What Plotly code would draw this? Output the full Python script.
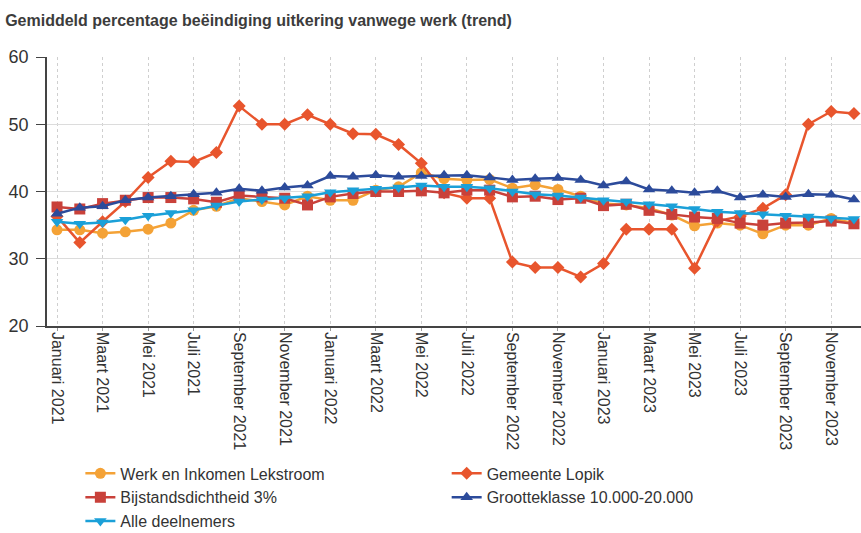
import plotly.graph_objects as go

months = ["Januari", "Februari", "Maart", "April", "Mei", "Juni", "Juli", "Augustus",
          "September", "Oktober", "November", "December"]
categories = [f"{m} {y}" for y in (2021, 2022, 2023) for m in months]

werk = [34.3, 34.3, 33.8, 34.0, 34.4, 35.3, 37.2, 37.8, 39.0, 38.5, 38.0, 39.3,
        38.7, 38.7, 40.2, 40.7, 42.8, 41.9, 41.7, 41.8, 40.5, 41.0, 40.3, 39.3,
        38.2, 38.0, 37.5, 36.5, 34.9, 35.3, 35.0, 33.7, 35.0, 35.0, 36.0, 35.3]
lopik = [36.3, 32.4, 35.5, 38.5, 42.1, 44.5, 44.4, 45.8, 52.7, 50.0, 50.0, 51.4,
         50.0, 48.6, 48.5, 47.0, 44.2, 39.8, 39.0, 39.0, 29.5, 28.7, 28.7, 27.3,
         29.3, 34.4, 34.4, 34.4, 28.6, 35.6, 36.3, 37.5, 39.5, 50.0, 51.9, 51.6]
bijstand = [37.7, 37.4, 38.2, 38.7, 39.1, 39.1, 38.9, 38.4, 39.4, 39.2, 39.0, 38.0,
            39.2, 39.7, 40.0, 40.0, 40.1, 39.8, 40.2, 40.2, 39.2, 39.3, 38.8, 39.0,
            37.9, 38.1, 37.2, 36.6, 36.2, 36.0, 35.3, 35.0, 35.3, 35.4, 35.6, 35.2]
groot = [36.7, 37.6, 37.8, 38.7, 39.1, 39.3, 39.6, 39.8, 40.4, 40.1, 40.6, 40.9,
         42.3, 42.2, 42.4, 42.2, 42.3, 42.4, 42.4, 42.1, 41.7, 41.9, 42.0, 41.7,
         40.9, 41.5, 40.3, 40.1, 39.8, 40.1, 39.1, 39.5, 39.2, 39.6, 39.5, 38.8]
alle = [35.5, 35.2, 35.4, 35.8, 36.4, 36.8, 37.2, 37.9, 38.5, 38.8, 39.0, 39.3,
        39.9, 40.2, 40.4, 40.6, 40.9, 40.7, 40.7, 40.5, 40.0, 39.6, 39.4, 39.1,
        38.7, 38.5, 38.1, 37.8, 37.4, 37.0, 36.8, 36.6, 36.4, 36.3, 36.0, 35.9]

tick_labels = categories[::2]

series = [
    ("Werk en Inkomen Lekstroom", werk, "#f4a236", "circle", 11, "legend"),
    ("Gemeente Lopik", lopik, "#e8552d", "diamond", 10, "legend2"),
    ("Bijstandsdichtheid 3%", bijstand, "#c9413a", "square", 11, "legend"),
    ("Grootteklasse 10.000-20.000", groot, "#2c4b9b", "triangle-up", 11, "legend2"),
    ("Alle deelnemers", alle, "#1ba0d8", "triangle-down", 11, "legend"),
]

fig = go.Figure()
for name, vals, color, sym, size, leg in series:
    fig.add_trace(go.Scatter(
        x=categories, y=vals, name=name, mode="lines+markers",
        line=dict(color=color, width=2.5),
        marker=dict(symbol=sym, size=size, color=color),
        legend=leg, cliponaxis=True,
    ))

legend_font = dict(family="Liberation Sans, Arial, sans-serif", size=16, color="#333")
fig.update_layout(
    width=861, height=533,
    margin=dict(l=47, r=0, t=57, b=207, autoexpand=False),
    paper_bgcolor="white", plot_bgcolor="white",
    title=dict(text="<b>Gemiddeld percentage beëindiging uitkering vanwege werk (trend)</b>",
               x=0.006, xanchor="left", y=0.9625, yanchor="middle",
               font=dict(family="Liberation Sans, Arial, sans-serif", size=16, color="#3c3c3c")),
    showlegend=True,
    legend=dict(x=0.041, y=-0.485, xanchor="left", yanchor="top", orientation="v",
                font=legend_font, bgcolor="rgba(0,0,0,0)", itemwidth=30),
    legend2=dict(x=0.491, y=-0.485, xanchor="left", yanchor="top", orientation="v",
                 font=legend_font, bgcolor="rgba(0,0,0,0)", itemwidth=30),
    font=dict(family="Liberation Sans, Arial, sans-serif", color="#333"),
)
fig.update_xaxes(
    type="category", range=[-0.44, 35.31],
    tickmode="array", tickvals=tick_labels, ticktext=tick_labels,
    tickangle=90, tickfont=dict(size=16, color="#333"),
    showgrid=True, gridcolor="#cfcfcf", griddash="dot", gridwidth=1,
    showline=True, linecolor="#444", linewidth=1.5,
    ticks="outside", ticklen=3, tickcolor="#999",
    ticklabelstandoff=-2,
    zeroline=False, automargin=False,
)
fig.update_yaxes(
    range=[20, 60], tickvals=[20, 30, 40, 50, 60],
    tickfont=dict(size=18, color="#333"),
    showgrid=True, gridcolor="#dcdcdc", gridwidth=1,
    showline=True, linecolor="#444", linewidth=1.5,
    ticks="outside", ticklen=9, tickcolor="#444",
    ticklabelstandoff=4,
    zeroline=False, automargin=False,
)
fig.write_html("out.html", config={"displayModeBar": False},
               post_script="document.body.style.margin='0';")
